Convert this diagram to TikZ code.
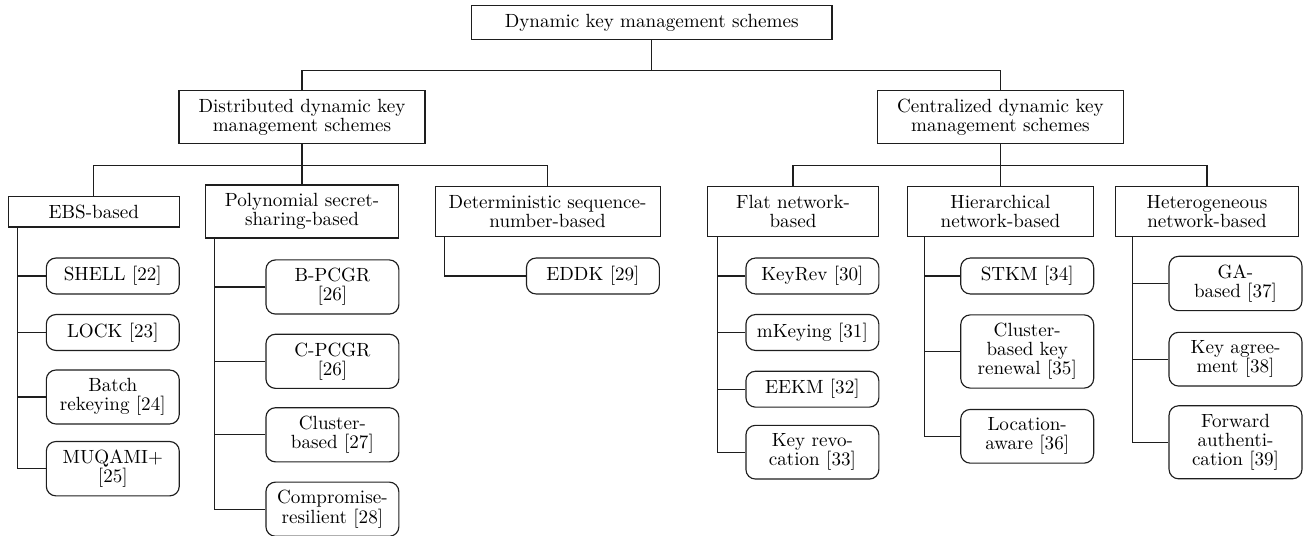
\documentclass[tikz,border=0pt]{standalone}
\usepackage{tikz}
\usepackage{xcolor}
\definecolor{treegray}{RGB}{30, 30, 30}

\tikzset{
  every node/.style={font=\fontsize{10}{10}\selectfont, align=center, inner xsep=2pt, inner ysep=4.4pt},
  catbox/.style={draw=treegray, line width=0.6pt, fill=white},
  leafbox/.style={draw=treegray, line width=0.6pt, rounded corners=5pt, fill=white, minimum width=69.6pt},
  link/.style={draw=treegray, line width=0.6pt}
}

\begin{document}
\begin{tikzpicture}[x=0.5236pt, y=-0.5236pt]
\useasboundingbox (0,0) rectangle (1311,536);

% top levels
\node[catbox, minimum width=188.8pt] (root) at (651.7,22.5) {Dynamic key management schemes};
\node[catbox, minimum width=128.8pt] (dist) at (302,117) {Distributed dynamic key\\management schemes};
\node[catbox, minimum width=128.8pt] (cent) at (1000.4,117) {Centralized dynamic key\\management schemes};

% categories
\node[catbox, minimum width=89.5pt] (ebs) at (93.8,211.7) {EBS-based};
\node[catbox, minimum width=101.4pt] (poly) at (302,211.5) {Polynomial secret-\\sharing-based};
\node[catbox, minimum width=117.8pt] (det) at (547.6,211.5) {Deterministic sequence-\\number-based};
\node[catbox, minimum width=89.5pt] (flat) at (793,211.5) {Flat network-\\based};
\node[catbox, minimum width=97.4pt] (hier) at (1000.4,211.5) {Hierarchical\\network-based};
\node[catbox, minimum width=95.8pt] (het) at (1207,211.5) {Heterogeneous\\network-based};

% schemes
\node[leafbox] (shell) at (112.8,276) {SHELL [22]};
\node[leafbox] (lock) at (112.8,332.5) {LOCK [23]};
\node[leafbox] (batch) at (112.8,397) {Batch\\rekeying [24]};
\node[leafbox] (muqami) at (112.8,468.7) {MUQAMI+\\{[25]}};

\node[leafbox] (bpcgr) at (332.4,287) {B-PCGR\\{[26]}};
\node[leafbox] (cpcgr) at (332.4,361.3) {C-PCGR\\{[26]}};
\node[leafbox] (clus) at (332.4,434.8) {Cluster-\\based [27]};
\node[leafbox] (comp) at (332.4,509.2) {Compromise-\\resilient [28]};

\node[leafbox] (eddk) at (592.9,276) {EDDK [29]};

\node[leafbox] (keyrev) at (812.4,276) {KeyRev [30]};
\node[leafbox] (mkey) at (812.4,332.5) {mKeying [31]};
\node[leafbox] (eekm) at (812.4,389.2) {EEKM [32]};
\node[leafbox] (krev) at (812.4,452.2) {Key revo-\\cation [33]};

\node[leafbox] (stkm) at (1027.2,276) {STKM [34]};
\node[leafbox] (ckr) at (1027.2,351.5) {Cluster-\\based key\\renewal [35]};
\node[leafbox] (loc) at (1027.2,436.3) {Location-\\aware [36]};

\node[leafbox] (ga) at (1235.5,283.5) {GA-\\based [37]};
\node[leafbox] (kagr) at (1235.5,359.2) {Key agree-\\ment [38]};
\node[leafbox] (fwd) at (1235.5,442.3) {Forward\\authenti-\\cation [39]};

% bars under the upper boxes
\draw[link] (root.south) -- ++(0,30.7) coordinate (rootbar);
\draw[link] (dist.north) |- (rootbar) -| (cent.north);
\draw[link] (dist.south) -- (poly.north);
\draw[link] (ebs.north) |- ([yshift=-21*0.5236pt]dist.south) -| (det.north);
\draw[link] (cent.south) -- (hier.north);
\draw[link] (flat.north) |- ([yshift=-21*0.5236pt]cent.south) -| (het.north);

% trunks to the schemes
\coordinate (ebst) at ([xshift=4.9pt]ebs.south west);
\coordinate (polyt) at ([xshift=5.1pt]poly.south west);
\coordinate (flatt) at ([xshift=5.3pt]flat.south west);
\coordinate (hiert) at ([xshift=9.3pt]hier.south west);
\coordinate (hett) at ([xshift=9.1pt]het.south west);

\draw[link] (ebst) |- (muqami.west);
\foreach \leaf in {shell,lock,batch}
  \draw[link] (\leaf.west) -- (\leaf.west -| ebst);
\draw[link] (polyt) |- (comp.west);
\foreach \leaf in {bpcgr,cpcgr,clus}
  \draw[link] (\leaf.west) -- (\leaf.west -| polyt);
\draw[link] ([xshift=5.4pt]det.south west) |- (eddk.west);
\draw[link] (flatt) |- (krev.west);
\foreach \leaf in {keyrev,mkey,eekm}
  \draw[link] (\leaf.west) -- (\leaf.west -| flatt);
\draw[link] (hiert) |- (loc.west);
\foreach \leaf in {stkm,ckr}
  \draw[link] (\leaf.west) -- (\leaf.west -| hiert);
\draw[link] (hett) |- (fwd.west);
\foreach \leaf in {ga,kagr}
  \draw[link] (\leaf.west) -- (\leaf.west -| hett);
\end{tikzpicture}
\end{document}
